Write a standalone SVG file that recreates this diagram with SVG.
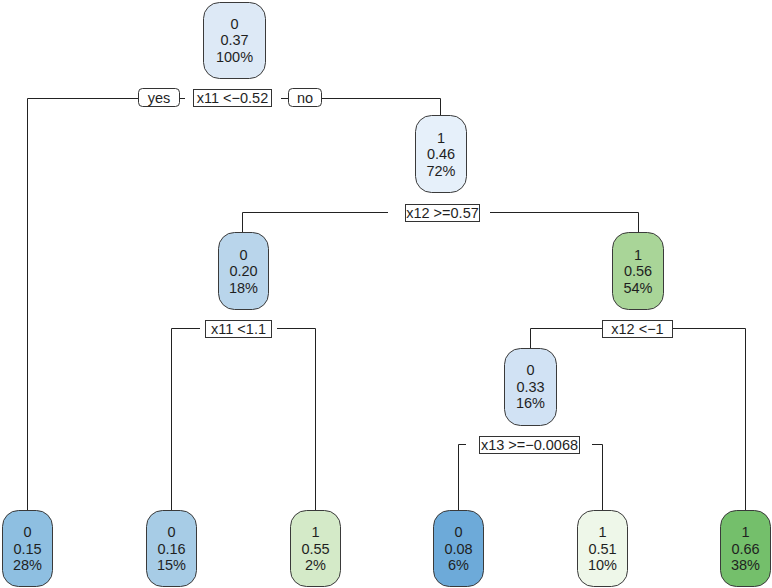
<svg xmlns="http://www.w3.org/2000/svg" width="772" height="588" viewBox="0 0 772 588">
<style>
text{font-family:"Liberation Sans",Arial,sans-serif;font-size:14.5px;fill:#1f1f1f;text-anchor:middle}
.node rect{stroke:#3a3a3a;stroke-width:1}
.lbl{fill:#fff;stroke:#333;stroke-width:1}
.conn path{fill:none;stroke:#222;stroke-width:1}
</style>
<rect width="772" height="588" fill="#fff"/>
<g id="connectors" class="conn">
<path d="M27.5,510 V98.5 H138 M180,98.5 H185 M281,98.5 H288 M322,98.5 H440.5 V115"/>
<path d="M242.5,232 V212.5 H388 M490,212.5 H638.5 V232"/>
<path d="M171.5,510 V328.5 H200 M277,328.5 H315.5 V510"/>
<path d="M530.5,348 V328.5 H602 M673,328.5 H745.5 V510"/>
<path d="M458.5,510 V444.5 H466 M592,444.5 H602.5 V510"/>
</g>
<g id="split-labels">
<g id="lbl-yes"><rect class="lbl" x="138.5" y="88.5" width="41" height="18" rx="4"/><text x="159" y="103">yes</text></g>
<g id="lbl-s1"><rect class="lbl" x="193.5" y="89.5" width="78" height="17"/><text x="232.5" y="103">x11 &lt;−0.52</text></g>
<g id="lbl-no"><rect class="lbl" x="288.5" y="88.5" width="33" height="18" rx="4"/><text x="305" y="103">no</text></g>
<g id="lbl-s2"><rect class="lbl" x="405.5" y="204.5" width="74" height="17"/><text x="442.5" y="218">x12 &gt;=0.57</text></g>
<g id="lbl-s3"><rect class="lbl" x="205.5" y="320.5" width="66" height="17"/><text x="238.5" y="334">x11 &lt;1.1</text></g>
<g id="lbl-s4"><rect class="lbl" x="602.5" y="320.5" width="70" height="17"/><text x="637.5" y="334">x12 &lt;−1</text></g>
<g id="lbl-s5"><rect class="lbl" x="479.5" y="436.5" width="100" height="17"/><text x="529.5" y="450">x13 &gt;=−0.0068</text></g>
</g>
<g id="n1" class="node"><rect x="203.5" y="2.5" width="62" height="76" rx="16" fill="#dde9f6"/><text x="234.5" y="28.5">0</text><text x="234.5" y="45">0.37</text><text x="234.5" y="61.5">100%</text></g>
<g id="n2" class="node"><rect x="415.5" y="115.5" width="51" height="77" rx="16" fill="#e6f0fa"/><text x="441" y="142.5">1</text><text x="441" y="159">0.46</text><text x="441" y="175.5">72%</text></g>
<g id="n3" class="node"><rect x="218.5" y="232.5" width="50" height="77" rx="16" fill="#b9d5eb"/><text x="243.5" y="259.5">0</text><text x="243.5" y="276">0.20</text><text x="243.5" y="292.5">18%</text></g>
<g id="n4" class="node"><rect x="612.5" y="232.5" width="51" height="77" rx="16" fill="#a9d598"/><text x="638" y="259.5">1</text><text x="638" y="276">0.56</text><text x="638" y="292.5">54%</text></g>
<g id="n5" class="node"><rect x="504.5" y="348.5" width="52" height="77" rx="16" fill="#d1e2f4"/><text x="530.5" y="375">0</text><text x="530.5" y="391.5">0.33</text><text x="530.5" y="408">16%</text></g>
<g id="L1" class="node"><rect x="2.5" y="510.5" width="50" height="76" rx="16" fill="#8ebfe1"/><text x="27.5" y="537">0</text><text x="27.5" y="553.5">0.15</text><text x="27.5" y="570">28%</text></g>
<g id="L2" class="node"><rect x="146.5" y="510.5" width="50" height="76" rx="16" fill="#a7cce6"/><text x="171.5" y="537">0</text><text x="171.5" y="553.5">0.16</text><text x="171.5" y="570">15%</text></g>
<g id="L3" class="node"><rect x="290.5" y="510.5" width="50" height="76" rx="16" fill="#d4eac8"/><text x="315.5" y="537">1</text><text x="315.5" y="553.5">0.55</text><text x="315.5" y="570">2%</text></g>
<g id="L4" class="node"><rect x="433.5" y="510.5" width="50" height="76" rx="16" fill="#6daad9"/><text x="458.5" y="537">0</text><text x="458.5" y="553.5">0.08</text><text x="458.5" y="570">6%</text></g>
<g id="L5" class="node"><rect x="577.5" y="510.5" width="50" height="76" rx="16" fill="#eef7e9"/><text x="602.5" y="537">1</text><text x="602.5" y="553.5">0.51</text><text x="602.5" y="570">10%</text></g>
<g id="L6" class="node"><rect x="720.5" y="510.5" width="50" height="76" rx="16" fill="#74bf6b"/><text x="745.5" y="537">1</text><text x="745.5" y="553.5">0.66</text><text x="745.5" y="570">38%</text></g>
</svg>
